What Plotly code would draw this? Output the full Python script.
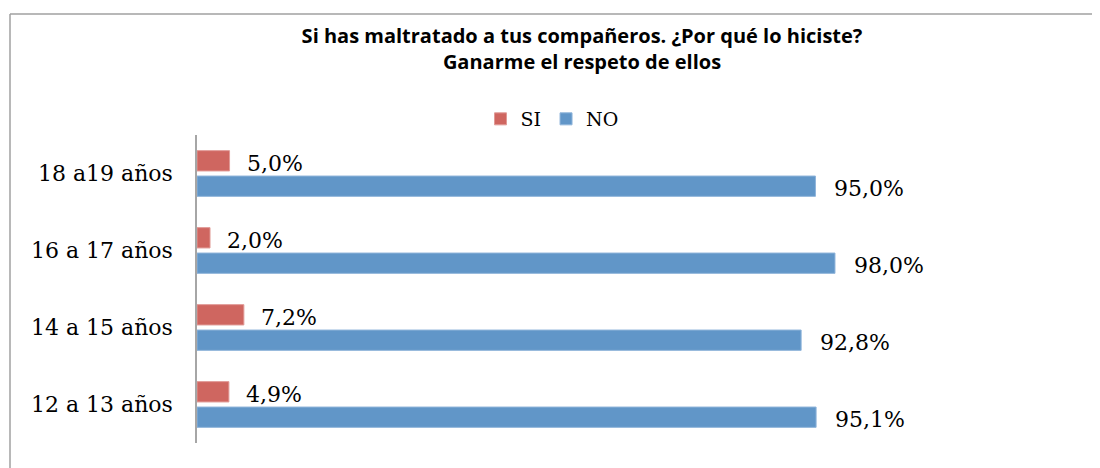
import plotly.graph_objects as go

categories = ["12 a 13 años", "14 a 15 años", "16 a 17 años", "18 a19 años"]
si_values = [4.9, 7.2, 2.0, 5.0]
no_values = [95.1, 92.8, 98.0, 95.0]
si_labels = ["4,9%", "7,2%", "2,0%", "5,0%"]
no_labels = ["95,1%", "92,8%", "98,0%", "95,0%"]

RED = "#CF6660"
BLUE = "#6196C8"
SERIF = "DejaVu Serif, serif"

W, H = 1092, 460
L, R, T, B = 189, 252, 127, 25
PW, PH = W - L - R, H - T - B

fig = go.Figure()
fig.add_trace(go.Bar(y=categories, x=no_values, name="NO", orientation="h",
                     marker=dict(color=BLUE, line=dict(color="#8FB4DA", width=1))))
fig.add_trace(go.Bar(y=categories, x=si_values, name="SI", orientation="h",
                     marker=dict(color=RED, line=dict(color="#E09A96", width=1))))

annotations = []
for c, v, t in zip(categories, si_values, si_labels):
    annotations.append(dict(x=v, y=c, text=t, showarrow=False, xanchor="left",
                            yanchor="middle", xshift=15, yshift=10,
                            font=dict(family=SERIF, size=22, color="#000")))
for c, v, t in zip(categories, no_values, no_labels):
    annotations.append(dict(x=v, y=c, text=t, showarrow=False, xanchor="left",
                            yanchor="middle", xshift=17, yshift=-15,
                            font=dict(family=SERIF, size=22, color="#000")))

fig.update_layout(
    width=W, height=H,
    margin=dict(l=L, r=R, t=T, b=B, autoexpand=False),
    paper_bgcolor="white", plot_bgcolor="white",
    barmode="group", bargap=0.34, bargroupgap=0.2,
    title=dict(text="<b>Si has maltratado a tus compañeros. ¿Por qué lo hiciste?<br>Ganarme el respeto de ellos</b>",
               x=574 / W, xref="container", xanchor="center",
               y=0.925, yref="container", yanchor="top",
               font=dict(family="Open Sans, sans-serif", size=20, color="#000")),
    legend=dict(orientation="h", traceorder="reversed",
                x=544 / W, xref="container", xanchor="center",
                y=1 - 111 / H, yref="container", yanchor="middle",
                font=dict(family=SERIF, size=19, color="#000"),
                itemwidth=30),
    xaxis=dict(range=[0, 100], showgrid=False, zeroline=False, showticklabels=False,
               showline=False, fixedrange=True),
    yaxis=dict(showgrid=False, zeroline=False, showline=True, linecolor="#A6A6A6",
               linewidth=1.5, ticks="", ticklabelstandoff=18,
               tickfont=dict(family=SERIF, size=22, color="#000")),
    annotations=annotations,
    shapes=[
        dict(type="line", xref="paper", yref="paper",
             x0=(2 - L) / PW, x1=1.5, y0=(PH + T - 6) / PH, y1=(PH + T - 6) / PH,
             line=dict(color="#A0A0A0", width=1.5)),
        dict(type="line", xref="paper", yref="paper",
             x0=(2 - L) / PW, x1=(2 - L) / PW, y0=(PH + T - 6) / PH, y1=-0.2,
             line=dict(color="#A0A0A0", width=1.5)),
    ],
)

fig.write_html("out.html")
